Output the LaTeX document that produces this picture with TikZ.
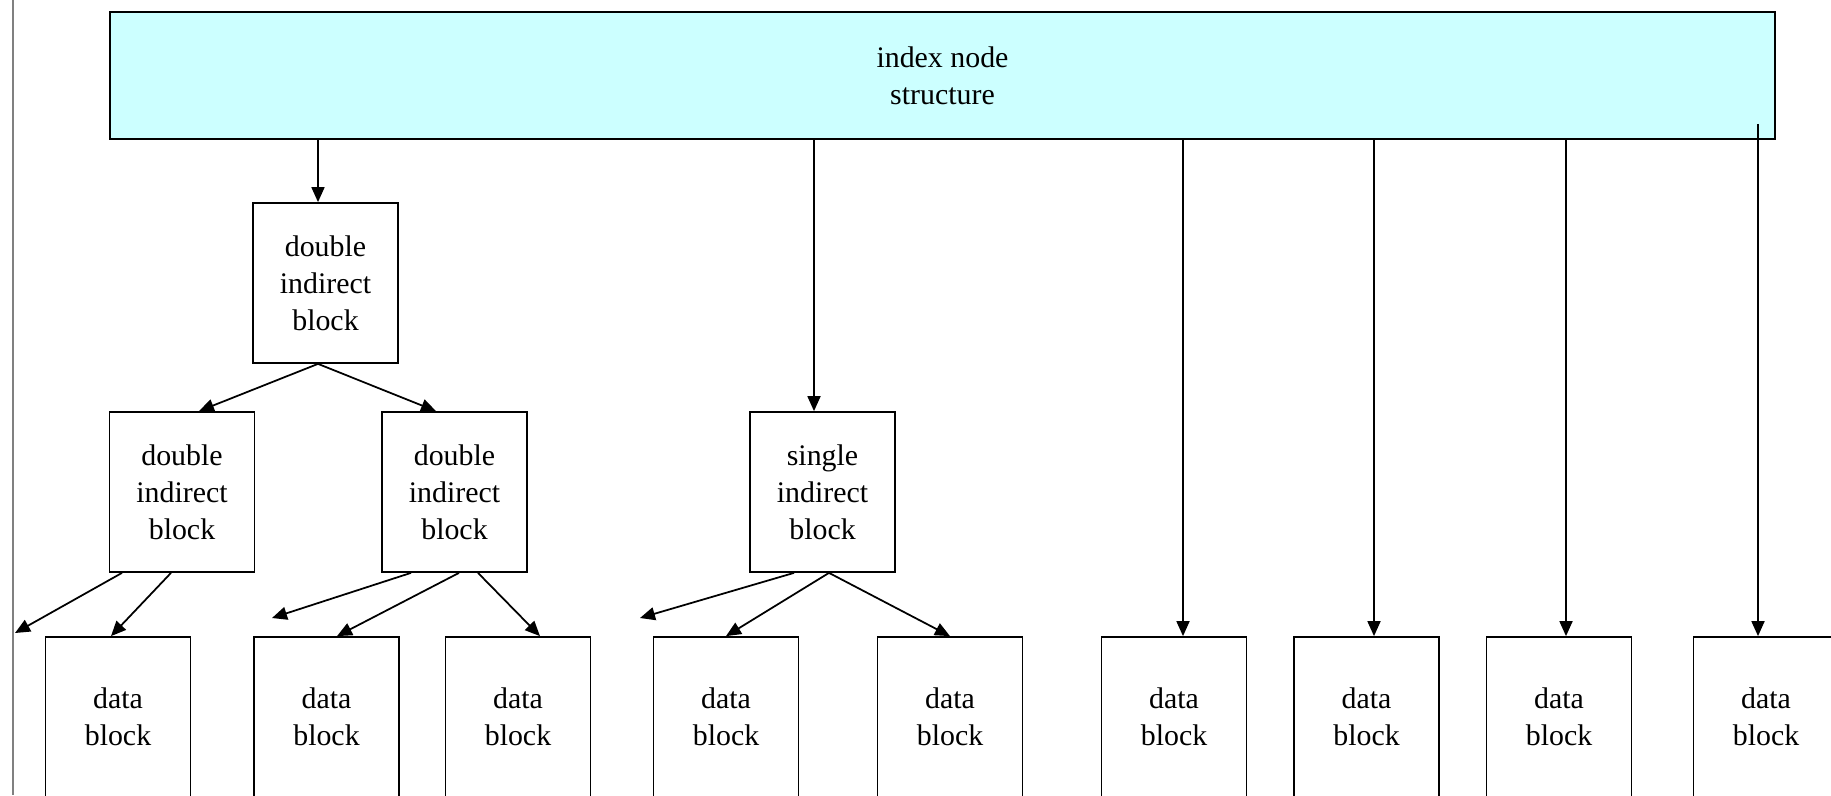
\documentclass[tikz,border=0pt]{standalone}
\usepackage{fontspec}
\setmainfont{Liberation Serif}
\usetikzlibrary{arrows.meta}

\definecolor{idxcyan}{HTML}{CCFFFF}

\tikzset{
    idxbox/.style={draw, fill=idxcyan, minimum width=33.3cm, minimum height=2.54cm, align=center},
    blk/.style={draw, minimum width=2.9cm, minimum height=3.2cm, align=center},
    ptr/.style={-{Triangle[length=0.3cm, width=0.26cm]}},
}

\begin{document}
\begin{tikzpicture}[line width=1pt, font=\fontsize{17}{21}\selectfont]
        \useasboundingbox (0, 0) rectangle (36.62, -15.9);
        \clip (0, 0) rectangle (36.62, -15.9);

        \draw[gray, line width=0.6pt] (0.26, 0) -- (0.26, -15.9);

        \node[idxbox] (idx) at (18.85, -1.51) {index node\\structure};

        \node[blk] (dib) at (6.51, -5.66) {double\\indirect\\block};
        \node[blk] (dibl) at (3.64, -9.84) {double\\indirect\\block};
        \node[blk] (dibr) at (9.09, -9.84) {double\\indirect\\block};
        \node[blk] (sib) at (16.45, -9.84) {single\\indirect\\block};

        \node[blk] (data1) at (2.36, -14.34) {data\\block};
        \node[blk] (data2) at (6.53, -14.34) {data\\block};
        \node[blk] (data3) at (10.36, -14.34) {data\\block};
        \node[blk] (data4) at (14.52, -14.34) {data\\block};
        \node[blk] (data5) at (19.0, -14.34) {data\\block};
        \node[blk] (data6) at (23.48, -14.34) {data\\block};
        \node[blk] (data7) at (27.33, -14.34) {data\\block};
        \node[blk] (data8) at (31.18, -14.34) {data\\block};
        \node[blk] (data9) at (35.32, -14.34) {data\\block};

        \coordinate (loose1) at (0.3, -12.66);
        \coordinate (loose2) at (5.44, -12.36);
        \coordinate (loose3) at (12.8, -12.36);

        \draw[ptr] ([xshift=-0.15cm]dib.north |- idx.south) -- ([xshift=-0.15cm]dib.north);
        \draw[ptr] ([xshift=-0.17cm]sib.north |- idx.south) -- ([xshift=-0.17cm]sib.north);
        \draw[ptr] ([xshift=0.18cm]data6.north |- idx.south) -- ([xshift=0.18cm]data6.north);
        \draw[ptr] ([xshift=0.15cm]data7.north |- idx.south) -- ([xshift=0.15cm]data7.north);
        \draw[ptr] ([xshift=0.14cm]data8.north |- idx.south) -- ([xshift=0.14cm]data8.north);
        \draw[ptr] ([xshift=-0.16cm, yshift=0.32cm]data9.north |- idx.south) -- ([xshift=-0.16cm]data9.north);

        \draw[ptr] ([xshift=-0.15cm]dib.south) -- ([xshift=0.34cm]dibl.north);
        \draw[ptr] ([xshift=-0.15cm]dib.south) -- ([xshift=-0.37cm]dibr.north);

        \draw[ptr] ([xshift=-1.2cm]dibl.south) -- (loose1);
        \draw[ptr] ([xshift=-0.22cm]dibl.south) -- ([xshift=-0.14cm]data1.north);

        \draw[ptr] ([xshift=-0.87cm]dibr.south) -- (loose2);
        \draw[ptr] ([xshift=0.09cm]dibr.south) -- ([xshift=0.21cm]data2.north);
        \draw[ptr] ([xshift=0.47cm]dibr.south) -- ([xshift=0.44cm]data3.north);

        \draw[ptr] ([xshift=-0.57cm]sib.south) -- (loose3);
        \draw[ptr] ([xshift=0.13cm]sib.south) -- (data4.north);
        \draw[ptr] ([xshift=0.13cm]sib.south) -- (data5.north);

\end{tikzpicture}
\end{document}
